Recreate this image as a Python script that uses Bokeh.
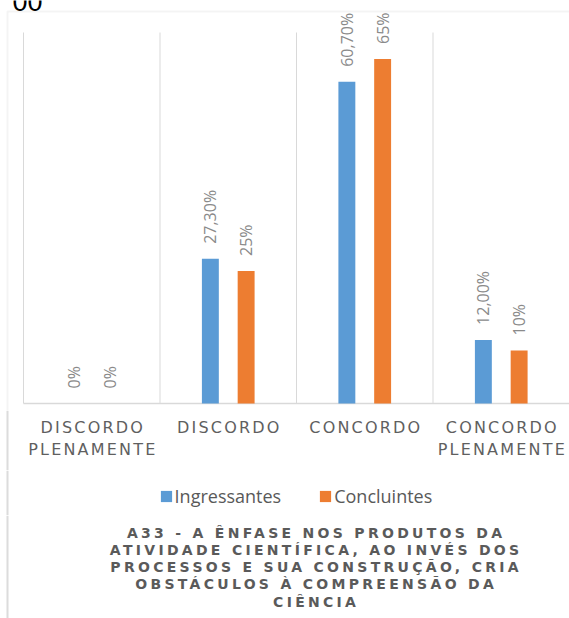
from bokeh.plotting import figure
from bokeh.models import (ColumnDataSource, Range1d, LabelSet, Label, Span,
                          BoxAnnotation, Legend, LegendItem, InlineStyleSheet)
from bokeh.layouts import column
from bokeh.core.properties import value
from bokeh.embed import file_html
from bokeh.resources import INLINE
import math

# ---------------- data ----------------
categories = ["DISCORDO PLENAMENTE", "DISCORDO", "CONCORDO", "CONCORDO PLENAMENTE"]
category_lines = [["DISCORDO", "PLENAMENTE"], ["DISCORDO"], ["CONCORDO"], ["CONCORDO", "PLENAMENTE"]]
series_names = ["Ingressantes", "Concluintes"]
ingressantes = [0.0, 27.3, 60.7, 12.0]
concluintes = [0.0, 25.0, 65.0, 10.0]
ingressantes_labels = ["0%", "27,30%", "60,70%", "12,00%"]
concluintes_labels = ["0%", "25%", "65%", "10%"]
title_lines = [
    "A33 - A ÊNFASE NOS PRODUTOS DA",
    "ATIVIDADE CIENTÍFICA, AO INVÉS DOS",
    "PROCESSOS E SUA CONSTRUÇÃO, CRIA",
    "OBSTÁCULOS À COMPREENSÃO DA",
    "CIÊNCIA",
]
corner_text = "00"
Y_MAX = 70

# ---------------- style / layout ----------------
BLUE = "#5B9BD5"
ORANGE = "#ED7D31"
GRID = "#d9d9d9"
BORDER = "#dcdcdc"
W = 569
PL, PR, PT, PB = 23, 569, 32, 403      # plot-area pixel box
ROWS = [(0, 410), (410, 470), (470, 515), (515, 618)]  # stacked strips
OFF = 0.131
BAR_W = 0.124
N = len(categories)
CAT_LS = 2.2      # letter spacing (px) of category labels
TITLE_LS = 3.3    # letter spacing (px) of chart title

def dx(sx):
    return (sx - PL) / (PR - PL) * N

def dy(sy):
    return (PB - sy) / (PB - PT) * Y_MAX

x_range = Range1d(dx(0), dx(W))

def strip(top, bottom, y_range, spacing=None):
    f = figure(width=W, height=bottom - top, x_range=x_range, y_range=y_range,
               output_backend="svg", toolbar_location=None, title=None,
               x_axis_location=None, y_axis_location=None,
               min_border=0, min_border_left=0, min_border_right=0,
               min_border_top=0, min_border_bottom=0)
    f.outline_line_color = None
    f.grid.visible = False
    f.background_fill_color = "white"
    f.border_fill_color = "white"
    if spacing is not None:
        f.stylesheets = [InlineStyleSheet(css=":host { letter-spacing: %spx; }" % spacing)]
    return f

# ---- strip 1: plot area ----
t0, b0 = ROWS[0]
p = strip(t0, b0, Range1d(dy(b0), dy(t0)))
p.add_layout(BoxAnnotation(left=dx(7), right=dx(900), top=dy(11), bottom=dy(900),
                           fill_alpha=0, line_color=BORDER, line_width=2))
p.segment(x0=list(range(N)), y0=[0] * N, x1=list(range(N)), y1=[Y_MAX] * N,
          line_color=GRID, line_width=1)
p.segment(x0=[0], y0=[0], x1=[N], y1=[0], line_color=GRID, line_width=1.5)

centers = [i + 0.5 for i in range(N)]
src = ColumnDataSource(dict(xi=[c - OFF for c in centers], xc=[c + OFF for c in centers],
                            ing=ingressantes, con=concluintes,
                            ing_l=ingressantes_labels, con_l=concluintes_labels))
r1 = p.vbar(x="xi", top="ing", width=BAR_W, source=src, fill_color=BLUE, line_color=None)
r2 = p.vbar(x="xc", top="con", width=BAR_W, source=src, fill_color=ORANGE, line_color=None)

for xcol, ycol, tcol in (("xi", "ing", "ing_l"), ("xc", "con", "con_l")):
    p.add_layout(LabelSet(x=xcol, y=ycol, text=tcol, source=src, angle=math.pi / 2,
                          text_align="left", text_baseline="middle", y_offset=15,
                          text_font=value("Open Sans"), text_font_size="16px",
                          text_color="#8a8a8a"))

p.add_layout(Label(x=dx(12), y=dy(1), text=corner_text, text_align="left",
                   text_baseline="alphabetic", text_font="Liberation Sans",
                   text_font_size="27px", text_color="black"))

# ---- strip 2: category labels ----
t1, b1 = ROWS[1]
q = strip(t1, b1, Range1d(-b1, -t1), spacing=CAT_LS)
q.add_layout(Span(location=dx(7), dimension="height", line_color=BORDER, line_width=2))
line_y = [427, 449]
for i, lines in enumerate(category_lines):
    for j, t in enumerate(lines):
        q.add_layout(Label(x=centers[i], y=-line_y[j], text=t, text_align="center",
                           x_offset=-(len(t) - 1) * CAT_LS / 2,
                           text_baseline="middle", text_font="DejaVu Sans",
                           text_font_size="16px", text_color="#5f5f5f"))

# ---- strip 3: legend ----
t2, b2 = ROWS[2]
g = strip(t2, b2, Range1d(-b2, -t2))
g.add_layout(Span(location=dx(7), dimension="height", line_color=BORDER, line_width=2))
gr1 = g.vbar(x=[0], top=[0], width=0, fill_color=BLUE, line_color=None)
gr2 = g.vbar(x=[0], top=[0], width=0, fill_color=ORANGE, line_color=None)
legend = Legend(items=[LegendItem(label=series_names[0], renderers=[gr1]),
                       LegendItem(label=series_names[1], renderers=[gr2])],
                orientation="horizontal", location=(160 - 1.4, b2 - 507.5),
                padding=0, margin=0, spacing=37, label_standoff=2,
                glyph_width=14, glyph_height=14,
                label_text_font="Open Sans", label_text_font_size="18px",
                label_text_color="#595959", border_line_color=None,
                background_fill_alpha=0)
g.add_layout(legend)

# ---- strip 4: chart title ----
t3, b3 = ROWS[3]
h = strip(t3, b3, Range1d(-b3, -t3), spacing=TITLE_LS)
h.add_layout(Span(location=dx(7), dimension="height", line_color=BORDER, line_width=2))
for k, t in enumerate(title_lines):
    h.add_layout(Label(x=dx(314), y=-(532 + 17.3 * k), text=t, text_align="center",
                       x_offset=-(len(t) - 1) * TITLE_LS / 2,
                       text_baseline="middle", text_font="DejaVu Sans",
                       text_font_style="bold", text_font_size="14px",
                       text_color="#5a5a5a"))

layout = column(p, q, g, h, spacing=0)
open("out.html", "w").write(file_html(layout, INLINE))
